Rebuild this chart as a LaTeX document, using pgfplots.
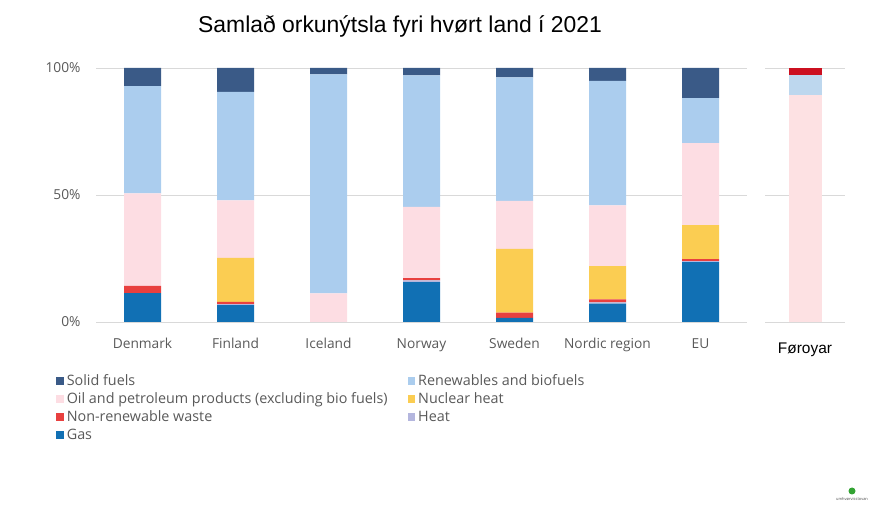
\documentclass[border=0pt]{standalone}
\usepackage{pgfplots}
\pgfplotsset{compat=1.18}
\usepackage{pgfplotstable}
\usepackage{fontspec}
\setmainfont{Open Sans}
\newfontfamily\arial{Liberation Sans}

\definecolor{solid}{HTML}{3A5A87}
\definecolor{renew}{HTML}{ABCDEE}
\definecolor{oil}{HTML}{FDDDE3}
\definecolor{nuclear}{HTML}{FBCD52}
\definecolor{waste}{HTML}{E8403F}
\definecolor{heat}{HTML}{B4B6DE}
\definecolor{gas}{HTML}{1170B4}
\definecolor{renewfo}{HTML}{BDD7EE}
\definecolor{wastefo}{HTML}{CC1020}
\definecolor{oilfo}{HTML}{FDE1E3}
\definecolor{ticktext}{HTML}{595959}
\definecolor{gridc}{HTML}{D9D9D9}

% shares in %, stacked bottom-up
\pgfplotstableread{
x gas heat waste nuclear oil renew solid
0 11.4 0.0 2.8 0.0  36.4 42.3 7.1
1 6.6  0.4 0.9 17.3 22.7 42.7 9.4
2 0.0  0.0 0.0 0.0  11.3 86.2 2.5
3 15.7 0.7 0.9 0.0  28.0 51.8 2.9
4 1.6  0.0 2.1 25.1 18.9 48.6 3.7
5 7.2  0.5 1.2 13.1 23.9 49.0 5.1
6 23.6 0.4 0.8 13.3 32.3 17.7 11.9
}\shares

\pgfplotstableread{
x oil renew waste
0 89.5 7.9 2.6
}\foroyar

\begin{document}
\begin{tikzpicture}
\path[use as bounding box] (0,0) rectangle (890bp,521bp);

\pgfplotsset{
  sharestyle/.style={
    scale only axis,
    height=254bp,
    ybar stacked,
    ymin=0, ymax=100,
    ytick={0,50,100},
    ymajorgrids,
    grid style={draw=gridc, line width=0.8bp},
    axis line style={draw=none},
    major tick length=0pt,
    tick label style={font=\fontsize{13.8}{16}\selectfont, text=ticktext},
    every axis plot/.append style={draw=none},
  },
}

\begin{axis}[
  sharestyle,
  at={(96bp,199bp)}, anchor=south west,
  width=651bp,
  bar width=37bp,
  xmin=-0.5, xmax=6.5,
  xtick={0,...,6},
  xticklabels={Denmark,Finland,Iceland,Norway,Sweden,Nordic region,EU},
  yticklabels={0\%,50\%,100\%},
  yticklabel style={xshift=-12bp},
  xticklabel style={yshift=-13bp},
  legend columns=2,
  legend style={at={(-0.0614,-0.2)}, anchor=north west, draw=none, fill=none,
    inner sep=0pt, font=\fontsize{14.4}{17}\selectfont, text=ticktext,
    /tikz/every even column/.append style={column sep=18bp},
    row sep=1.5bp},
  legend cell align=left,
  legend image code/.code={\path[#1] (0bp,-3.8bp) rectangle (7.6bp,3.8bp);
    \path (8.6bp,0bp);},
]
\addlegendimage{fill=solid, draw=none}
\addlegendimage{fill=renew, draw=none}
\addlegendimage{fill=oil, draw=none}
\addlegendimage{fill=nuclear, draw=none}
\addlegendimage{fill=waste, draw=none}
\addlegendimage{fill=heat, draw=none}
\addlegendimage{fill=gas, draw=none}
\addplot[fill=gas] table[x=x, y=gas] {\shares};
\addplot[fill=heat] table[x=x, y=heat] {\shares};
\addplot[fill=waste] table[x=x, y=waste] {\shares};
\addplot[fill=nuclear] table[x=x, y=nuclear] {\shares};
\addplot[fill=oil] table[x=x, y=oil] {\shares};
\addplot[fill=renew] table[x=x, y=renew] {\shares};
\addplot[fill=solid] table[x=x, y=solid] {\shares};
\legend{Solid fuels, Renewables and biofuels,
  Oil and petroleum products (excluding bio fuels), Nuclear heat,
  Non-renewable waste, Heat, Gas}
\end{axis}

\begin{axis}[
  sharestyle,
  at={(765bp,199bp)}, anchor=south west,
  width=80bp,
  bar width=33bp,
  xmin=-0.5, xmax=0.5,
  xtick={0},
  xticklabels={Føroyar},
  xticklabel style={font=\arial\fontsize{15.5}{18}\selectfont, text=black, yshift=-17bp},
  yticklabels={},
]
\addplot[fill=oilfo] table[x=x, y=oil] {\foroyar};
\addplot[fill=renewfo] table[x=x, y=renew] {\foroyar};
\addplot[fill=wastefo] table[x=x, y=waste] {\foroyar};
\end{axis}

\node[font=\arial\fontsize{23}{26}\selectfont, anchor=base] at (400bp,488bp)
  {Samlað orkunýtsla fyri hvørt land í 2021};

% logo
\fill[green!55!black!80] (852bp,30bp) circle (3.5bp);
\node[font=\fontsize{4}{5}\selectfont, text=black!70] at (852bp,22bp) {umhvørvisstovan};
\end{tikzpicture}
\end{document}
